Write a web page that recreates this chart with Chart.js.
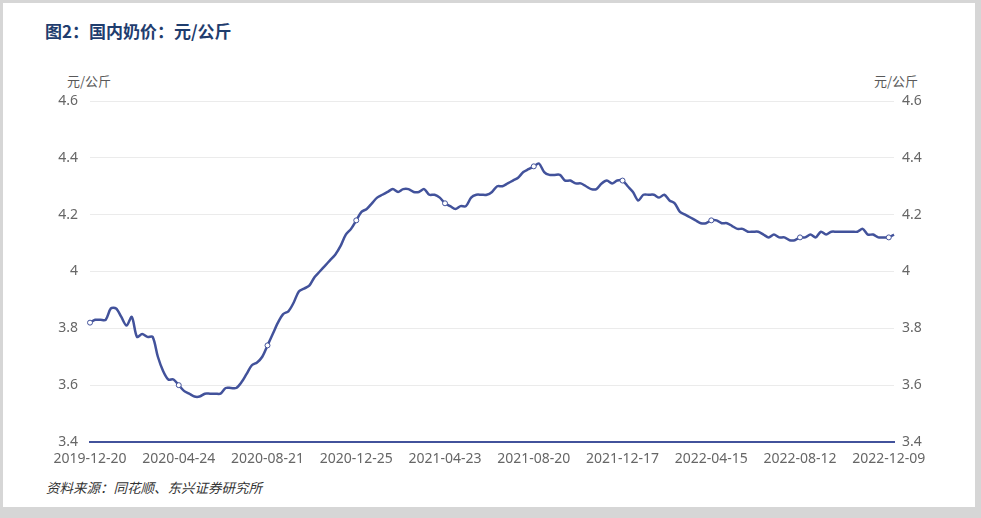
<!DOCTYPE html>
<html lang="zh-CN">

<head>
    <meta charset="UTF-8">
    <title>国内奶价：元/公斤</title>
    <script src="https://cdn.jsdelivr.net/npm/chart.js"></script>
    <style>
        body {
            margin: 0;
            width: 981px;
            height: 518px;
            background: #d6d6d6;
            overflow: hidden;
            font-family: "Noto Sans CJK SC", "Noto Sans", sans-serif;
        }

        #panel {
            position: absolute;
            left: 3px;
            top: 3px;
            width: 972px;
            height: 504px;
            background: #fff;
        }

        #title {
            position: absolute;
            left: 45px;
            top: 18px;
            font-size: 17px;
            font-weight: bold;
            color: #1f3d6e;
        }

        .unit {
            position: absolute;
            top: 71px;
            font-size: 13px;
            color: #595959;
        }

        #source {
            position: absolute;
            left: 46px;
            top: 477px;
            font-size: 13.5px;
            font-style: italic;
            color: #333;
        }

        #chart-container {
            position: absolute;
            left: 0;
            top: 0;
            width: 981px;
            height: 518px;
        }
    </style>
</head>

<body>
    <div id="panel"></div>
    <div id="title">图2：国内奶价：元/公斤</div>
    <div class="unit" style="left:67px">元/公斤</div>
    <div class="unit" style="left:874px">元/公斤</div>
    <div id="source">资料来源：同花顺、东兴证券研究所</div>
    <div id="chart-container">
        <canvas id="milkChart"></canvas>
    </div>

    <script>
        // 周度数据，起始日期与缺失的周
        const firstWeek = '2019-12-20';
        const skippedWeeks = ['2020-01-24', '2020-10-02'];
        const tickEvery = 17;

        // 国内奶价（元/公斤）
        const milkPrice = [
            3.82, 3.83, 3.83, 3.83, 3.87, 3.87, 3.84, 3.81, 3.84, 3.77,
            3.78, 3.77, 3.77, 3.70, 3.65, 3.62, 3.62, 3.60, 3.58, 3.57,
            3.56, 3.56, 3.57, 3.57, 3.57, 3.57, 3.59, 3.59, 3.59, 3.61,
            3.64, 3.67, 3.68, 3.70, 3.74, 3.78, 3.82, 3.85, 3.86, 3.89,
            3.93, 3.94, 3.95, 3.98, 4.00, 4.02, 4.04, 4.06, 4.09, 4.13,
            4.15, 4.18, 4.21, 4.22, 4.24, 4.26, 4.27, 4.28, 4.29, 4.28,
            4.29, 4.29, 4.28, 4.28, 4.29, 4.27, 4.27, 4.26, 4.24, 4.23,
            4.22, 4.23, 4.23, 4.26, 4.27, 4.27, 4.27, 4.28, 4.30, 4.30,
            4.31, 4.32, 4.33, 4.35, 4.36, 4.37, 4.38, 4.35, 4.34, 4.34,
            4.34, 4.32, 4.32, 4.31, 4.31, 4.30, 4.29, 4.29, 4.31, 4.32,
            4.31, 4.32, 4.32, 4.30, 4.28, 4.25, 4.27, 4.27, 4.27, 4.26,
            4.27, 4.25, 4.24, 4.21, 4.20, 4.19, 4.18, 4.17, 4.17, 4.18,
            4.18, 4.17, 4.17, 4.16, 4.15, 4.15, 4.14, 4.14, 4.14, 4.13,
            4.12, 4.13, 4.12, 4.12, 4.11, 4.11, 4.12, 4.12, 4.13, 4.12,
            4.14, 4.13, 4.14, 4.14, 4.14, 4.14, 4.14, 4.14, 4.15, 4.13,
            4.13, 4.12, 4.12, 4.12, 4.13
        ];

        // 按周生成日期标签（跳过缺失的周）
        function buildWeeks(start, count, skip) {
            const weeks = [];
            const d = new Date(start + 'T00:00:00Z');
            while (weeks.length < count) {
                const s = d.toISOString().slice(0, 10);
                if (!skip.includes(s)) weeks.push(s);
                d.setUTCDate(d.getUTCDate() + 7);
            }
            return weeks;
        }

        const weeks = buildWeeks(firstWeek, milkPrice.length, skippedWeeks);

        const lineColor = '#42529b';
        const tickColor = '#666';
        const tickFont = { family: '"Noto Sans", sans-serif', size: 14 };
        // 4.0 显示为 "4"
        const fmtPrice = v => String(Number(v.toFixed(1)));

        const ctx = document.getElementById('milkChart').getContext('2d');
        new Chart(ctx, {
            type: 'line',
            data: {
                labels: weeks,
                datasets: [{
                    label: '国内奶价',
                    data: milkPrice,
                    borderColor: lineColor,
                    borderWidth: 2.5,
                    tension: 0.3,
                    pointRadius: c => c.dataIndex % tickEvery === 0 ? 2.5 : 0,
                    pointBackgroundColor: '#fff',
                    pointBorderColor: lineColor,
                    pointBorderWidth: 1,
                }]
            },
            options: {
                responsive: true,
                maintainAspectRatio: false,
                animation: false,
                layout: {
                    padding: { top: 101, left: 0, right: 0, bottom: 0 }
                },
                plugins: {
                    legend: { display: false },
                    tooltip: { enabled: false }
                },
                scales: {
                    x: {
                        grid: { display: false, drawTicks: false },
                        border: { display: true, color: lineColor, width: 2 },
                        ticks: {
                            autoSkip: false,
                            maxRotation: 0,
                            padding: 9,
                            color: tickColor,
                            font: tickFont,
                            callback: function (v, i) {
                                return i % tickEvery === 0 ? this.getLabelForValue(v) : null;
                            }
                        },
                        afterFit: s => { s.height = 76; }
                    },
                    y: {
                        position: 'left',
                        min: 3.4,
                        max: 4.6,
                        ticks: { stepSize: 0.2, padding: 12, color: tickColor, font: tickFont, callback: fmtPrice },
                        grid: { color: '#ebebeb', drawTicks: false },
                        border: { display: false },
                        afterFit: s => { s.width = 90; }
                    },
                    y2: {
                        position: 'right',
                        min: 3.4,
                        max: 4.6,
                        ticks: { stepSize: 0.2, padding: 8, color: tickColor, font: tickFont, callback: fmtPrice },
                        grid: { display: false, drawTicks: false },
                        border: { display: false },
                        afterFit: s => { s.width = 87; }
                    }
                }
            }
        });
    </script>
</body>

</html>
